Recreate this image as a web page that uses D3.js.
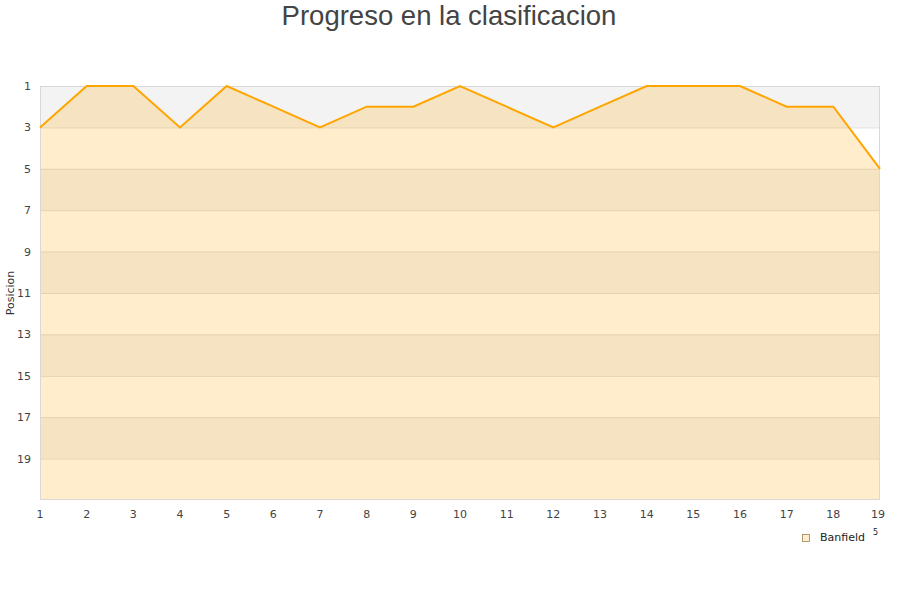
<!DOCTYPE html>
<html><head><meta charset="utf-8">
<script src="https://cdn.jsdelivr.net/npm/d3@7"></script>
<style>body{margin:0;background:#fff;}svg{display:block;}</style>
</head><body><svg id="c" width="900" height="600"></svg>
<script>
const jornadas = [1,2,3,4,5,6,7,8,9,10,11,12,13,14,15,16,17,18,19];
const posiciones = [3,1,1,3,1,2,3,2,2,1,2,3,2,1,1,1,2,2,5];
const yTicks = [1,3,5,7,9,11,13,15,17,19];
const seriesName = "Banfield";
const title = "Progreso en la clasificacion";
const yTitle = "Posicion";

const svg = d3.select("#c");
const L=40,R=880,T=86,B=500;
const x = d3.scaleLinear().domain([1,19]).range([L,R]);
const y = d3.scaleLinear().domain([1,21]).range([T,B]);

const bands = d3.range(1,21,2);
svg.selectAll("rect.band").data(bands).enter().append("rect")
  .attr("x",L).attr("width",R-L)
  .attr("y",d=>y(d)).attr("height",d=>y(d+2)-y(d))
  .attr("fill",(d,i)=>i%2===0?"#f3f3f3":"#ffffff");

svg.selectAll("line.grid").data(d3.range(3,21,2)).enter().append("line")
  .attr("x1",L).attr("x2",R).attr("y1",d=>y(d)+0.5).attr("y2",d=>y(d)+0.5)
  .attr("stroke","#dddddd").attr("stroke-width",1);

const area = d3.area().x((d,i)=>x(jornadas[i])).y0(y(21)).y1(d=>y(d));
svg.append("path").datum(posiciones).attr("d",area).attr("fill","rgba(255,165,0,0.2)");

svg.append("rect").attr("x",L+0.5).attr("y",T+0.5).attr("width",R-L-1).attr("height",B-T-1)
  .attr("fill","none").attr("stroke","#d8d8d8");

const line = d3.line().x((d,i)=>x(jornadas[i])).y(d=>y(d));
svg.append("path").datum(posiciones).attr("d",line).attr("fill","none")
  .attr("stroke","#ffa500").attr("stroke-width",2);

svg.selectAll("text.yt").data(yTicks).enter().append("text")
  .attr("x",31).attr("y",d=>y(d)+4).attr("text-anchor","end")
  .attr("font-family","DejaVu Sans").attr("font-size",11).attr("fill","#444")
  .text(d=>d);
svg.selectAll("text.xt").data(jornadas).enter().append("text")
  .attr("x",(d,i)=>x(d)-(i===jornadas.length-1?2:0)).attr("y",518).attr("text-anchor","middle")
  .attr("font-family","DejaVu Sans").attr("font-size",11).attr("fill","#444")
  .text(d=>d);

svg.append("text").attr("x",449).attr("y",25).attr("text-anchor","middle")
  .attr("font-family","Liberation Sans, Arial").attr("font-size",27.5).attr("fill","#444").text(title);
svg.append("text").attr("transform","translate(14,293) rotate(-90)").attr("text-anchor","middle")
  .attr("font-family","DejaVu Sans").attr("font-size",11).attr("fill","#333").text(yTitle);

svg.append("rect").attr("x",802.5).attr("y",534.5).attr("width",7).attr("height",7)
  .attr("fill","#ffedcc").attr("stroke","#a08050").attr("stroke-width",0.8);
svg.append("text").attr("x",820).attr("y",541).attr("font-family","DejaVu Sans")
  .attr("font-size",11).attr("fill","#222").text(seriesName);
svg.append("text").attr("x",873).attr("y",535).attr("font-family","DejaVu Sans")
  .attr("font-size",8).attr("fill","#222").text("5");
</script></body></html>
